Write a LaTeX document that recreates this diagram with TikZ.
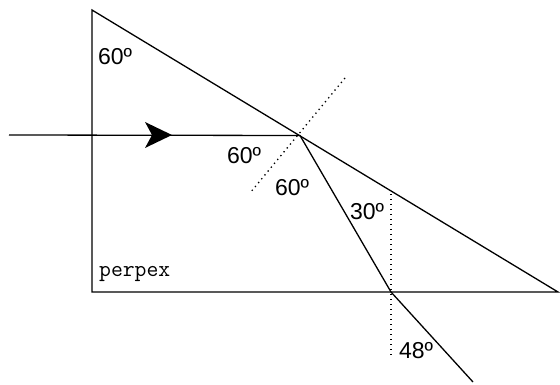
\documentclass[tikz,border=0pt]{standalone}
\usepackage{fontspec}
\setmainfont{Liberation Sans}
\usetikzlibrary{arrows.meta}
\begin{document}
\begin{tikzpicture}[x=1pt,y=-1pt,
  ray/.style={line width=1.3pt},
  edge/.style={line width=1.3pt},
  guide/.style={line width=1.3pt, dash pattern=on 1.3pt off 3.7pt},
  angle/.style={font=\fontsize{23}{23}\selectfont, inner sep=0pt},
  tag/.style={font=\ttfamily\fontsize{23}{23}\selectfont, inner sep=0pt}]
\useasboundingbox (0,0) rectangle (560,385);
% prism
\coordinate (A) at (92,10);
\coordinate (B) at (92,292);
\coordinate (C) at (558,292);
\draw[edge, line join=miter] (A) -- (B) -- (C) -- cycle;
% rays
\coordinate (S) at (9,135);
\coordinate (H) at (300,135.5);
\coordinate (E) at (391,292);
\coordinate (F) at (473,382);
\draw[ray] (S) -- (H);
\fill (145,122) -- (172,135) -- (145,148) -- (152,135) -- cycle;
\draw[ray] (H) -- (E) -- (F);
% normals
\coordinate (N1) at (345,78);
\coordinate (N2) at (250,193);
\draw[guide] (N1) -- (N2);
\coordinate (V1) at (391,194);
\coordinate (V2) at (391,358);
\draw[guide] (V1) -- (V2);
% labels
\node[angle] (a1) at (115,57) {60º};
\node[angle] (a2) at (244,156) {60º};
\node[angle] (a3) at (292,188) {60º};
\node[angle] (a4) at (367,212) {30º};
\node[angle] (a5) at (416,351) {48º};
\node[tag, anchor=base west] (p) at (99,276) {perpex};
\end{tikzpicture}
\end{document}
